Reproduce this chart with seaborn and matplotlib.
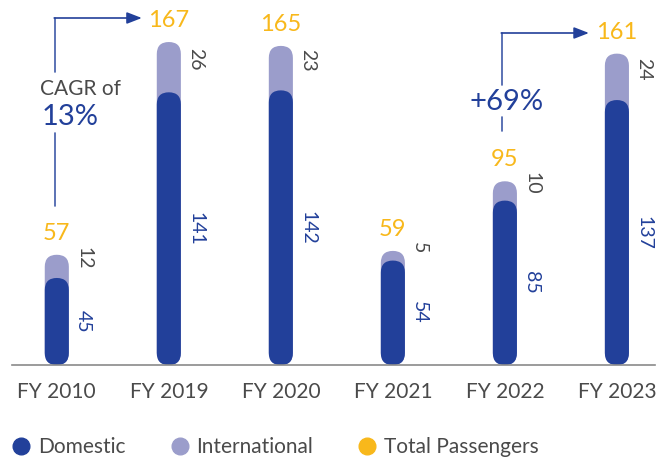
import numpy as np
import pandas as pd
import seaborn as sns
from matplotlib import pyplot as plt
from matplotlib.patches import FancyBboxPatch
from matplotlib.lines import Line2D

years = ["FY 2010", "FY 2019", "FY 2020", "FY 2021", "FY 2022", "FY 2023"]
domestic = [45, 141, 142, 54, 85, 137]
international = [12, 26, 23, 5, 10, 24]
totals = [57, 167, 165, 59, 95, 161]

DOM = "#22409a"
INTL = "#9b9dcb"
TOT = "#f8b81b"
GREY = "#4a4a4a"

sns.set_style("white")
plt.rcParams["font.family"] = ["Lato", "DejaVu Sans"]

df = pd.DataFrame({"year": years, "domestic": domestic,
                   "international": international, "total": totals})

fig = plt.figure(figsize=(6.63, 4.65), dpi=100)
ax = fig.add_axes([12 / 663, 100 / 465, 643 / 663, 355 / 465])

# total (light) behind, domestic (dark) in front
sns.barplot(data=df, x="year", y="total", color=INTL, width=0.215, ax=ax, saturation=1)
sns.barplot(data=df, x="year", y="domestic", color=DOM, width=0.215, ax=ax, saturation=1)

ax.set_xlim(-0.4, 5.34)
ax.set_ylim(0, 355 / 1.934)

# turn rectangles into capsules
xr = 0.1075
aspect = 6.2 / xr
for p in list(ax.patches):
    x, y = p.get_x(), p.get_y()
    w, h = p.get_width(), p.get_height()
    fc = p.get_facecolor()
    z = p.get_zorder()
    p.remove()
    cap = FancyBboxPatch((x, y), w, h,
                         boxstyle=f"round,pad=0,rounding_size={xr}",
                         mutation_aspect=aspect, fc=fc, ec="none", zorder=z)
    ax.add_patch(cap)

for i in range(len(years)):
    ax.text(i, totals[i] + 11, str(totals[i]), color=TOT, fontsize=17,
            ha="center", va="center", clip_on=False)
    ax.text(i + 0.24, domestic[i] / 2, str(domestic[i]), color=DOM, fontsize=14,
            rotation=-90, ha="center", va="center")
    ax.text(i + 0.24, domestic[i] + international[i] / 2 + 4, str(international[i]),
            color=GREY, fontsize=14, rotation=-90, ha="center", va="center")

def px2y(py):
    return (365 - py) / 1.934

def px2x(px):
    return (px - 57) / 112

# CAGR annotation
ax.plot([px2x(55)] * 2, [px2y(18), px2y(72)], color="#3f5aa8", lw=1.2, clip_on=False)
ax.plot([px2x(55)] * 2, [px2y(133), px2y(206)], color="#3f5aa8", lw=1.2)
ax.annotate("", xy=(px2x(142), px2y(18)), xytext=(px2x(54.4), px2y(18)),
            arrowprops=dict(arrowstyle="-|>,head_length=0.9,head_width=0.35",
                            color=DOM, lw=1.2, shrinkA=0, shrinkB=0),
            annotation_clip=False)
ax.text(px2x(81), px2y(89), "CAGR of", color=GREY, fontsize=15, ha="center", va="center")
ax.text(px2x(70), px2y(117), "13%", color=DOM, fontsize=21, ha="center", va="center")

# +69% annotation
ax.plot([px2x(502)] * 2, [px2y(33), px2y(85)], color="#3f5aa8", lw=1.2)
ax.plot([px2x(502)] * 2, [px2y(117), px2y(131)], color="#3f5aa8", lw=1.2)
ax.annotate("", xy=(px2x(589), px2y(33)), xytext=(px2x(501.4), px2y(33)),
            arrowprops=dict(arrowstyle="-|>,head_length=0.9,head_width=0.35",
                            color=DOM, lw=1.2, shrinkA=0, shrinkB=0))
ax.text(px2x(507), px2y(102), "+69%", color=DOM, fontsize=21, ha="center", va="center")

sns.despine(ax=ax, left=True, top=True, right=True)
ax.spines["bottom"].set_color("#8a8a8a")
ax.spines["bottom"].set_linewidth(1.2)
ax.set_yticks([])
ax.set_xlabel("")
ax.set_ylabel("")
ax.tick_params(axis="x", length=0, pad=12, labelsize=15, labelcolor=GREY)

handles = [Line2D([], [], ls="", marker="o", markersize=12, color=c) for c in (DOM, INTL, TOT)]
fig.legend(handles, ["Domestic", "International", "Total Passengers"],
           loc="center left", bbox_to_anchor=(-10 / 663, 18 / 465), ncol=3, frameon=False,
           fontsize=15, labelcolor=GREY, handletextpad=0.2, columnspacing=2.0,
           handlelength=1.2)

fig.savefig("out.png", dpi=100)
